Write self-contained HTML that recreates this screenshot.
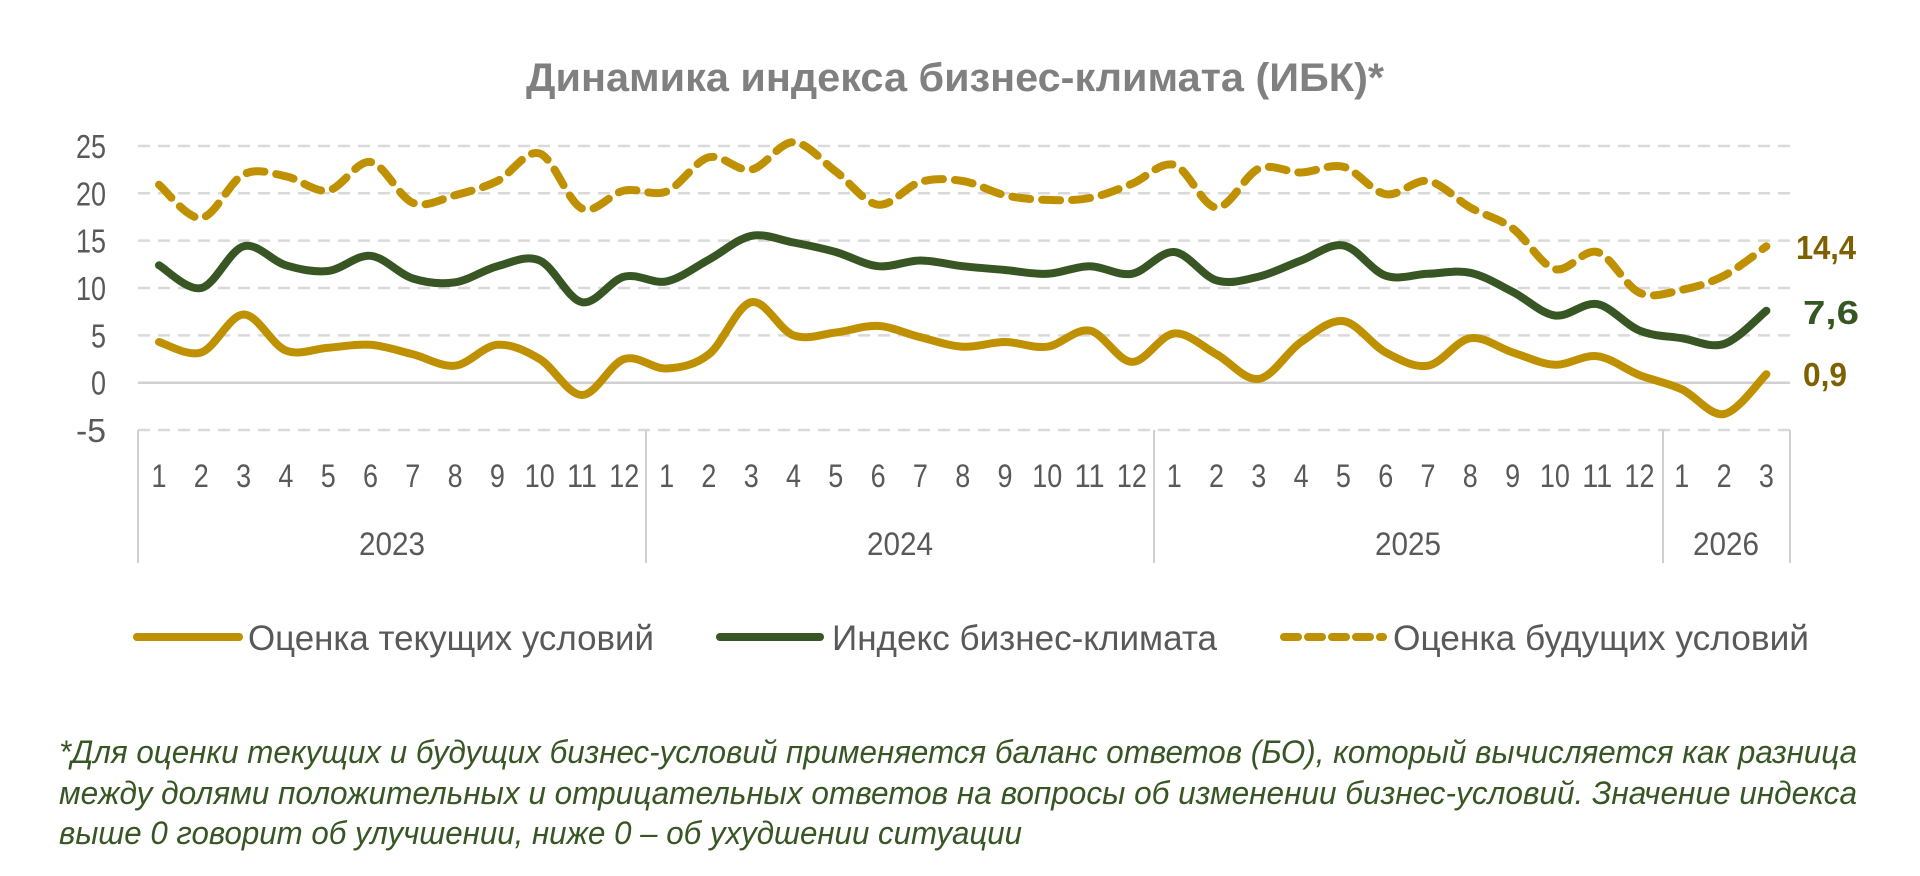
<!DOCTYPE html>
<html><head><meta charset="utf-8"><style>
html,body{margin:0;padding:0;background:#fff;}
svg{display:block;}
</style></head><body>
<svg id="c" width="1920" height="876" xmlns="http://www.w3.org/2000/svg" font-family="'Liberation Sans', sans-serif">
<text x="955" y="91" text-anchor="middle" font-size="40" font-weight="bold" fill="#808080" textLength="858" lengthAdjust="spacingAndGlyphs">Динамика индекса бизнес-климата (ИБК)*</text>
<g id="grid"></g>
<g id="series"></g>
<g font-size="33" font-weight="bold">
<text x="1796" y="259" fill="#7f6000" textLength="60" lengthAdjust="spacingAndGlyphs">14,4</text>
<text x="1803" y="324" fill="#375623" textLength="56" lengthAdjust="spacingAndGlyphs">7,6</text>
<text x="1803" y="386" fill="#7f6000" textLength="44" lengthAdjust="spacingAndGlyphs">0,9</text>
</g>
<g font-size="35" fill="#595959">
<line x1="137" y1="637" x2="239" y2="637" stroke="#bf9000" stroke-width="8" stroke-linecap="round"/>
<text x="248" y="650" textLength="406" lengthAdjust="spacingAndGlyphs">Оценка текущих условий</text>
<line x1="720" y1="637" x2="820" y2="637" stroke="#375623" stroke-width="8" stroke-linecap="round"/>
<text x="832" y="650" textLength="385" lengthAdjust="spacingAndGlyphs">Индекс бизнес-климата</text>
<line x1="1284" y1="637" x2="1383" y2="637" stroke="#bf9000" stroke-width="8" stroke-linecap="round" stroke-dasharray="14,10"/>
<text x="1393" y="650" textLength="416" lengthAdjust="spacingAndGlyphs">Оценка будущих условий</text>
</g>
<g font-size="32" font-style="italic" fill="#375623">
<text x="59" y="763" textLength="1798" lengthAdjust="spacingAndGlyphs">*Для оценки текущих и будущих бизнес-условий применяется баланс ответов (БО), который вычисляется как разница</text>
<text x="59" y="804" textLength="1798" lengthAdjust="spacingAndGlyphs">между долями положительных и отрицательных ответов на вопросы об изменении бизнес-условий. Значение индекса</text>
<text x="59" y="844" textLength="963" lengthAdjust="spacingAndGlyphs">выше 0 говорит об улучшении, ниже 0 – об ухудшении ситуации</text>
</g>
</svg>
<script>
var NS="http://www.w3.org/2000/svg";
function el(p,t,a,txt){var e=document.createElementNS(NS,t);for(var k in a)e.setAttribute(k,a[k]);if(txt!==undefined)e.textContent=txt;p.appendChild(e);return e;}
var g=document.getElementById('grid'),s=document.getElementById('series');
function Y(v){return 382.7-9.47*v;}
function X(i){return 159+i*42.3;}
for(var v=-5;v<=25;v+=5){
  if(v===0) el(g,'line',{x1:138,x2:1790,y1:Y(0),y2:Y(0),stroke:'#d0d0d0','stroke-width':2.5});
  else el(g,'line',{x1:138,x2:1790,y1:Y(v),y2:Y(v),stroke:'#d9d9d9','stroke-width':2.5,'stroke-dasharray':'12,8'});
  var t=String(v);
  el(g,'text',{x:106,y:Y(v)+12,'text-anchor':'end','font-size':33,fill:'#595959',textLength:t.length*15,lengthAdjust:'spacingAndGlyphs'},t);
}
[138,646,1154,1663,1790].forEach(function(x){el(g,'line',{x1:x,x2:x,y1:Y(-5),y2:563,stroke:'#d0d0d0','stroke-width':2});});
var months=[];for(var y=0;y<3;y++)for(var m=1;m<=12;m++)months.push(m);months.push(1,2,3);
months.forEach(function(m,i){var t=String(m);el(g,'text',{x:X(i),y:487,'text-anchor':'middle','font-size':32,fill:'#595959',textLength:t.length*15,lengthAdjust:'spacingAndGlyphs'},t);});
[[392,'2023'],[900,'2024'],[1408,'2025'],[1726,'2026']].forEach(function(a){el(g,'text',{x:a[0],y:555,'text-anchor':'middle','font-size':32,fill:'#595959',textLength:66,lengthAdjust:'spacingAndGlyphs'},a[1]);});
var cur=[4.3,3.2,7.2,3.4,3.7,4.0,3.0,1.8,4.0,2.5,-1.3,2.5, 1.5,3,8.5,5,5.3,6,4.8,3.8,4.3,3.8,5.5,2.2, 5.2,3,0.4,4.3,6.5,3.2,1.8,4.7,3.2,1.9,2.8,0.8, -0.7,-3.3,0.9];
var idx=[12.4,10.0,14.4,12.4,11.8,13.4,11.0,10.6,12.3,12.9,8.5,11.2, 10.7,13,15.5,14.8,13.8,12.3,12.9,12.3,11.9,11.5,12.3,11.5, 13.8,10.8,11.2,12.9,14.5,11.3,11.5,11.6,9.6,7.1,8.3,5.5, 4.7,4.1,7.6];
var fut=[20.9,17.4,22.0,21.8,20.3,23.3,19.0,19.8,21.3,24.2,18.4,20.3, 20.2,23.8,22.5,25.4,22.3,18.8,21.2,21.3,19.8,19.3,19.5,21.0, 23,18.5,22.6,22.2,22.8,19.9,21.3,18.5,16.3,12.0,13.8,9.5, 9.8,11.3,14.4];
function path(d){var p=d.map(function(v,i){return [X(i),Y(v)];});var s='M'+p[0][0]+','+p[0][1];
 for(var i=0;i<p.length-1;i++){var p0=p[i-1]||p[i],p1=p[i],p2=p[i+1],p3=p[i+2]||p2;
  var c1=[p1[0]+(p2[0]-p0[0])/6,p1[1]+(p2[1]-p0[1])/6],c2=[p2[0]-(p3[0]-p1[0])/6,p2[1]-(p3[1]-p1[1])/6];
  s+=' C'+c1[0].toFixed(1)+','+c1[1].toFixed(1)+' '+c2[0].toFixed(1)+','+c2[1].toFixed(1)+' '+p2[0].toFixed(1)+','+p2[1].toFixed(1);}
 return s;}
el(s,'path',{d:path(cur),fill:'none',stroke:'#bf9000','stroke-width':8,'stroke-linecap':'round','stroke-linejoin':'round'});
el(s,'path',{d:path(idx),fill:'none',stroke:'#375623','stroke-width':8,'stroke-linecap':'round','stroke-linejoin':'round'});
el(s,'path',{d:path(fut),fill:'none',stroke:'#bf9000','stroke-width':8,'stroke-linecap':'round','stroke-linejoin':'round','stroke-dasharray':'18,12'});
</script>
</body></html>
